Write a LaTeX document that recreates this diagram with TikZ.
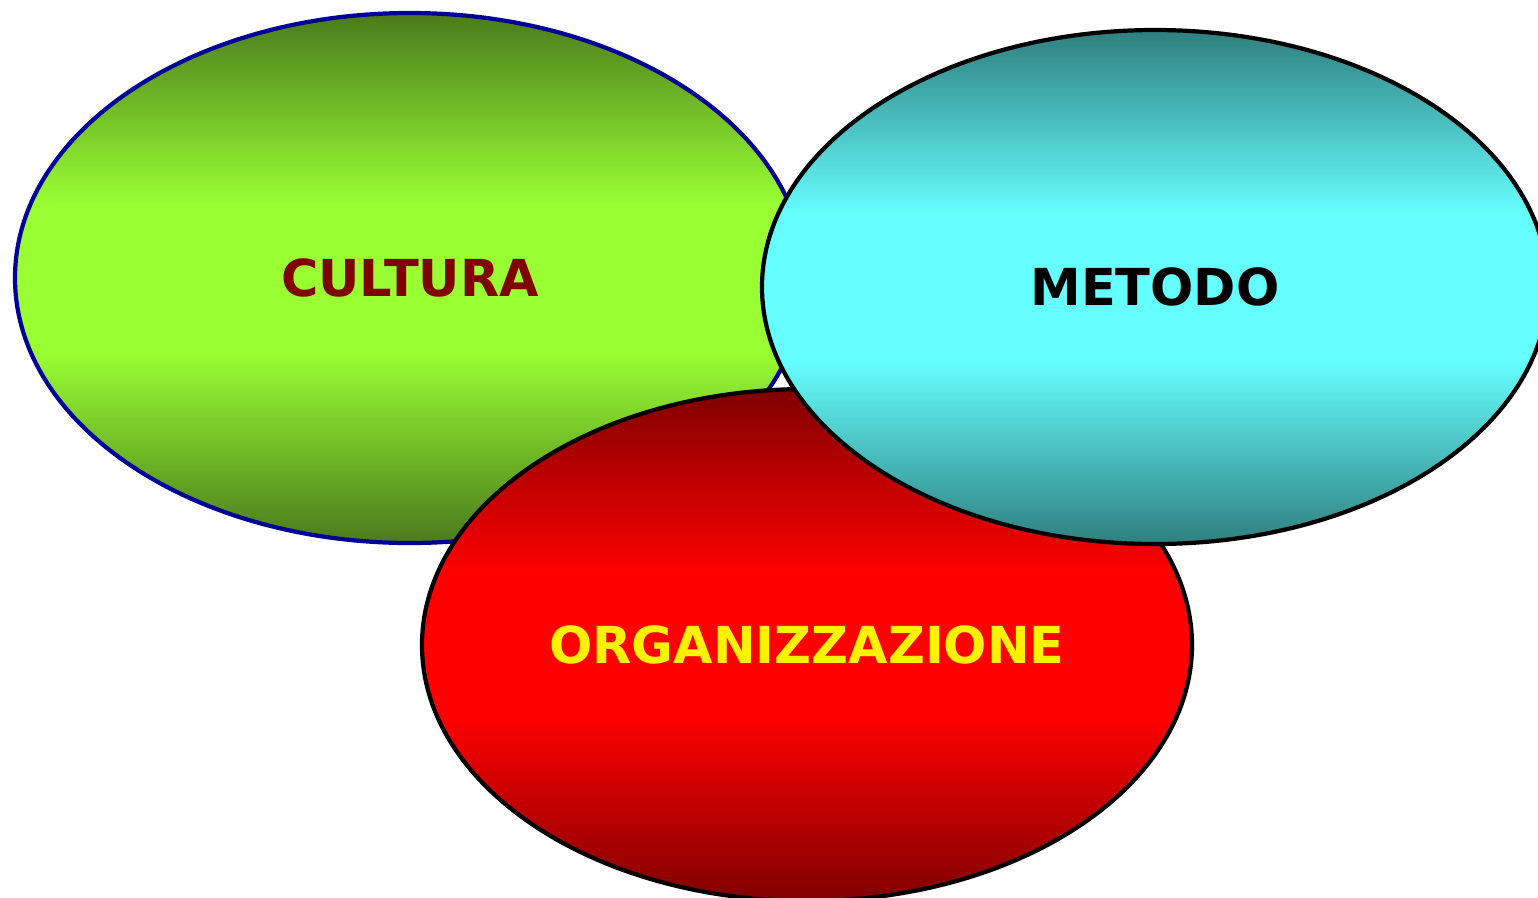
\documentclass[tikz,border=0pt]{standalone}
\usepackage{fontspec}
\setmainfont{DejaVu Sans}
\usepackage{tikz}
\usetikzlibrary{shapes.geometric}
\definecolor{culturadark}{RGB}{74,122,28}
\definecolor{culturalight}{RGB}{153,255,51}
\definecolor{orgdark}{RGB}{128,0,0}
\definecolor{orglight}{RGB}{255,0,0}
\definecolor{metododark}{RGB}{47,127,127}
\definecolor{metodolight}{RGB}{102,255,255}
\definecolor{culturaborder}{RGB}{0,0,153}
\pgfdeclareverticalshading{culturashade}{100bp}{color(0bp)=(culturadark); color(25bp)=(culturadark);
  color(43bp)=(culturalight); color(57bp)=(culturalight); color(75bp)=(culturadark); color(100bp)=(culturadark)}
\pgfdeclareverticalshading{orgshade}{100bp}{color(0bp)=(orgdark); color(25bp)=(orgdark);
  color(43bp)=(orglight); color(57bp)=(orglight); color(75bp)=(orgdark); color(100bp)=(orgdark)}
\pgfdeclareverticalshading{metodoshade}{100bp}{color(0bp)=(metododark); color(25bp)=(metododark);
  color(43bp)=(metodolight); color(57bp)=(metodolight); color(75bp)=(metododark); color(100bp)=(metododark)}

\begin{document}
\begin{tikzpicture}[blob/.style={ellipse,shade,line width=1.2pt,inner sep=0pt,font=\fontsize{14.5}{17}\selectfont\bfseries}]
\useasboundingbox (0,0) rectangle (15.38,-8.97);
% three overlapping ellipses
\node[blob,draw=culturaborder,shading=culturashade,text=orgdark,
  minimum width=7.90cm,minimum height=5.30cm] (cultura) at (4.10,-2.78) {CULTURA};
\node[blob,draw=black,shading=orgshade,text=yellow,
  minimum width=7.70cm,minimum height=5.12cm] (org) at (8.07,-6.45) {ORGANIZZAZIONE};
\node[blob,draw=black,shading=metodoshade,text=black,
  minimum width=7.86cm,minimum height=5.14cm] (metodo) at (11.55,-2.87) {METODO};
\end{tikzpicture}
\end{document}
